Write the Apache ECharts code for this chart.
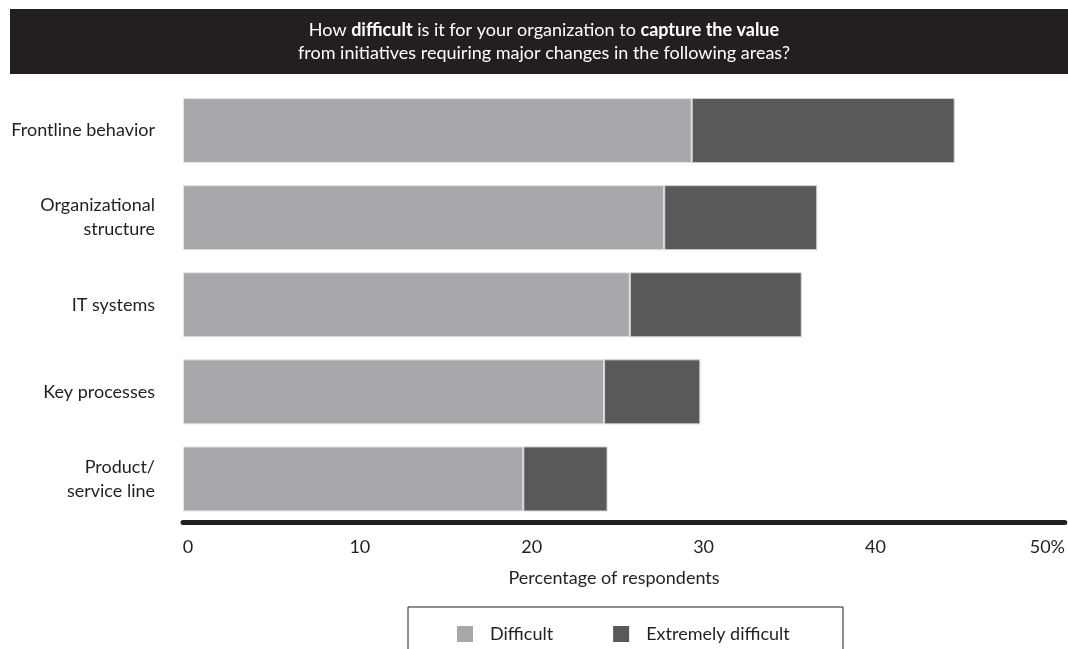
<!DOCTYPE html>
<html>
<head>
<meta charset="utf-8">
<script src="https://cdn.jsdelivr.net/npm/echarts@6/dist/echarts.min.js"></script>
<style>
html,body{margin:0;padding:0;background:#fff;}
#chart{width:1068px;height:649px;}
</style>
</head>
<body>
<div id="chart"></div>
<script>
var categories = ['Frontline behavior', 'Organizational\nstructure', 'IT systems', 'Key processes', 'Product/\nservice line'];
var difficult = [29.6, 28.0, 26.0, 24.5, 19.8];
var extremelyDifficult = [15.3, 8.9, 10.0, 5.6, 4.9];
var tickValues = [0, 10, 20, 30, 40, 50];
var tickLabels = ['0', '10', '20', '30', '40', '50%'];

var FONT = 'Lato';
var INK = '#231f20';
var FS = 18;
var chart = echarts.init(document.getElementById('chart'));
chart.setOption({
  animation: false,
  backgroundColor: '#fff',
  textStyle: { fontFamily: FONT },
  title: {
    text: '{n|How }{b|difficult}{n| is it for your organization to }{b|capture the value}\n{n|from initiatives requiring major changes in the following areas?}',
    left: 539,
    top: 14,
    textAlign: 'center',
    textStyle: {
      fontWeight: 'normal',
      rich: {
        n: { fontFamily: FONT, fontSize: FS, color: '#fff', fontWeight: 'normal', lineHeight: 23 },
        b: { fontFamily: FONT, fontSize: FS, color: '#fff', fontWeight: 'bold', lineHeight: 23 }
      }
    }
  },
  graphic: [
    { type: 'rect', z: -1, shape: { x: 10, y: 9, width: 1058, height: 65 }, style: { fill: INK } },
    { type: 'rect', z: 0, shape: { x: 408, y: 607, width: 435, height: 80 }, style: { fill: 'none', stroke: INK, lineWidth: 1 } },
    { type: 'text', x: 614, y: 578, style: { text: 'Percentage of respondents', fontFamily: FONT, fontSize: FS, fill: INK, textAlign: 'center', textVerticalAlign: 'middle' } }
  ],
  legend: {
    left: 452,
    top: 620,
    itemWidth: 16,
    itemHeight: 16,
    itemGap: 60,
    icon: 'rect',
    itemStyle: { borderWidth: 0 },
    textStyle: { fontFamily: FONT, fontSize: FS, color: INK, padding: [0, 0, 0, 12] },
    data: ['Difficult', 'Extremely difficult']
  },
  grid: { left: 183, right: 0, top: 87, bottom: 126.5, containLabel: false },
  xAxis: {
    type: 'value',
    min: 0,
    max: 885 / 17.25,
    interval: 10,
    splitLine: { show: false },
    axisTick: { show: false },
    axisLine: { show: true, onZero: false, lineStyle: { color: INK, width: 5 } },
    axisLabel: {
      fontFamily: FONT, fontSize: FS, color: INK, margin: 16,
      padding: [0, 0, 0, 10],
      showMaxLabel: false,
      formatter: function (v) {
        var i = tickValues.indexOf(Math.round(v * 1000) / 1000);
        return i >= 0 ? tickLabels[i] : '';
      }
    }
  },
  yAxis: {
    type: 'category',
    inverse: true,
    data: categories,
    axisLine: { show: false },
    axisTick: { show: false },
    axisLabel: { fontFamily: FONT, fontSize: FS, color: INK, margin: 28, lineHeight: 24, align: 'right' }
  },
  series: [
    {
      name: 'Difficult', type: 'bar', stack: 'total', barWidth: 65,
      data: difficult,
      itemStyle: { color: '#a7a8ab', borderColor: '#e4e4e5', borderWidth: 1 }
    },
    {
      name: 'Extremely difficult', type: 'bar', stack: 'total', barWidth: 65,
      data: extremelyDifficult,
      itemStyle: { color: '#58595b', borderColor: '#d0d0d2', borderWidth: 1 }
    }
  ]
});
</script>
</body>
</html>
